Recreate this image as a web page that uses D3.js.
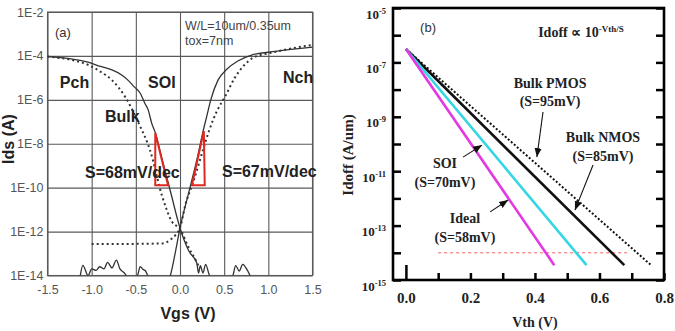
<!DOCTYPE html>
<html>
<head>
<meta charset="utf-8">
<script src="https://cdn.jsdelivr.net/npm/d3@7"></script>
<style>
body { margin: 0; background: #fff; }
svg { display: block; }
</style>
</head>
<body>
<script>
// ---- panel (a): Ids-Vgs, SOI (solid) vs bulk (dotted) ----
var vgsTicks = [-1.5, -1.0, -0.5, 0.0, 0.5, 1.0, 1.5],
    idsTicks = [1e-14, 1e-12, 1e-10, 1e-8, 1e-6, 1e-4, 1e-2];

// [Vgs, Ids]
var soiPch = [[-1.5, 9.3e-5], [-1.25, 7.6e-5], [-1.04, 5.2e-5], [-0.9, 3.3e-5], [-0.77, 2.3e-5],
  [-0.66, 1.35e-5], [-0.59, 7.9e-6], [-0.52, 4.0e-6], [-0.45, 2.0e-6], [-0.4, 7.2e-7],
  [-0.36, 3.5e-7], [-0.32, 8.5e-8], [-0.28, 3.2e-8], [-0.2, 1.8e-9], [-0.1, 5e-11],
  [0, 1.45e-12], [0.1, 1.3e-13], [0.19, 3.7e-14], [0.21, 1.3e-14], [0.23, 2.8e-14],
  [0.26, 1.3e-14], [0.29, 3.2e-14], [0.33, 1.1e-14], [0.37, 6e-15], [0.45, 5e-15],
  [0.57, 5e-15], [0.6, 1e-14], [0.63, 2.8e-14], [0.67, 1.6e-14], [0.71, 3.2e-14],
  [0.76, 1.8e-14], [0.8, 9e-15], [0.85, 5e-15], [1.5, 5e-15]];

var soiNch = [[-1.5, 5e-15], [-1.15, 5e-15], [-1.1, 2.9e-14], [-1.04, 1e-14], [-1.0, 2e-14],
  [-0.95, 1.7e-14], [-0.91, 2.5e-14], [-0.86, 2e-14], [-0.82, 4e-14], [-0.77, 2.2e-14],
  [-0.72, 5e-14], [-0.68, 2e-14], [-0.63, 1.3e-14], [-0.6, 9e-15], [-0.55, 5e-15],
  [-0.5, 7e-15], [-0.48, 1e-14], [-0.45, 2.5e-14], [-0.42, 1.9e-14], [-0.39, 1.6e-14],
  [-0.36, 9e-15], [-0.3, 5e-15], [-0.15, 5e-15], [-0.11, 1e-14], [-0.05, 1.3e-13],
  [0, 1.45e-12], [0.1, 6.3e-11], [0.19, 1.8e-9], [0.265, 4.3e-8], [0.3, 1.6e-7],
  [0.35, 1.05e-6], [0.43, 7.9e-6], [0.53, 2.45e-5], [0.66, 6e-5], [0.81, 1.1e-4],
  [1.08, 1.6e-4], [1.5, 2.5e-4]];

var bulkPch = [[-1.5, 9.3e-5], [-1.04, 3.9e-5], [-0.9, 1.9e-5], [-0.77, 7.9e-6], [-0.62, 1.35e-6],
  [-0.47, 8.9e-8], [-0.34, 5.2e-9], [-0.2, 3.8e-11], [-0.09, 2.8e-12], [0, 1.3e-12],
  [0.1, 1.8e-13], [0.19, 4e-14], [0.22, 2.2e-14]];

var bulkNch = [[-1.0, 2.75e-13], [-0.6, 2.75e-13], [-0.2, 2.9e-13], [-0.11, 4.2e-13], [-0.05, 7e-13],
  [0, 1.45e-12], [0.06, 1.6e-11], [0.15, 1.8e-10], [0.26, 5.2e-9], [0.33, 4e-8],
  [0.42, 3.2e-7], [0.51, 1.4e-6], [0.62, 1e-5], [0.72, 3.5e-5], [0.82, 7.9e-5],
  [1.07, 1.5e-4], [1.5, 3.2e-4]];

// slope triangles
var triPch = [[-0.28, 3.1e-8], [-0.28, 1.3e-10], [-0.135, 1.3e-10]],
    triNch = [[0.135, 1.3e-10], [0.28, 1.3e-10], [0.27, 3.8e-8]];

// ---- panel (b): Idoff vs Vth ----
var vthTicks = [0, 0.1, 0.2, 0.3, 0.4, 0.5, 0.6, 0.7, 0.8],
    ioffTicks = [1e-15, 1e-14, 1e-13, 1e-12, 1e-11, 1e-10, 1e-9, 1e-8, 1e-7, 1e-6, 1e-5];

// [Vth, Idoff]
var ideal = [[0, 3.1e-7], [0.46, 3.5e-15]],
    soi = [[0, 3.1e-7], [0.56, 3.5e-15]],
    bulkNmos = [[0, 3.1e-7], [0.677, 3.5e-15]],
    bulkPmos = [[0, 3.1e-7], [0.76, 3.5e-15]];
var refLevel = [[0.1, 1e-14], [0.685, 1e-14]];

var width = 675, height = 331;

var svg = d3.select("body").append("svg")
    .attr("width", width)
    .attr("height", height);

var sans = "'Liberation Sans', Arial, sans-serif",
    serif = "'Liberation Serif', 'Times New Roman', serif";

// ================= panel (a) =================
var xa = d3.scaleLinear().domain([-1.5, 1.5]).range([47.5, 312.5]),
    ya = d3.scaleLog().domain([1e-14, 1e-2]).range([275.5, 12]);

var ga = svg.append("g");
var aw = xa.range()[1] - xa.range()[0],
    ah = ya.range()[0] - ya.range()[1];

ga.append("g")
    .attr("transform", "translate(0," + ya.range()[0] + ")")
    .call(d3.axisBottom(xa).tickValues(vgsTicks).tickSize(-ah).tickSizeOuter(0).tickPadding(10)
      .tickFormat(function(d) { return d.toFixed(1); }))
    .call(styleGrid);

ga.append("g")
    .attr("transform", "translate(" + xa.range()[0] + ",0)")
    .call(d3.axisLeft(ya).tickValues(idsTicks).tickSize(-aw).tickSizeOuter(0).tickPadding(4)
      .tickFormat(function(d) { return "1E" + Math.round(Math.log10(d)); }))
    .call(styleGrid);

function styleGrid(g) {
  g.select(".domain").remove();
  g.selectAll(".tick line").attr("stroke", "#5a5a5a").attr("stroke-width", 1.1);
  g.selectAll(".tick text").attr("fill", "#555").style("font-family", sans).style("font-size", "12.5px");
}

ga.append("rect")
    .attr("x", xa.range()[0]).attr("y", ya.range()[1])
    .attr("width", aw).attr("height", ah)
    .attr("fill", "none").attr("stroke", "#5a5a5a").attr("stroke-width", 1.1);

svg.append("clipPath").attr("id", "clipa")
  .append("rect")
    .attr("x", xa.range()[0]).attr("y", ya.range()[1])
    .attr("width", aw).attr("height", ah);

var lineA = d3.line()
    .curve(d3.curveMonotoneX)
    .x(function(d) { return xa(d[0]); })
    .y(function(d) { return ya(d[1]); });

var curves = ga.append("g").attr("clip-path", "url(#clipa)");

[soiPch, soiNch].forEach(function(s) {
  curves.append("path").datum(s)
      .attr("d", lineA)
      .attr("fill", "none").attr("stroke", "#333").attr("stroke-width", 1.3);
});
[bulkPch, bulkNch].forEach(function(s) {
  curves.append("path").datum(s)
      .attr("d", lineA)
      .attr("fill", "none").attr("stroke", "#333").attr("stroke-width", 2)
      .attr("stroke-dasharray", "2,3");
});

[triPch, triNch].forEach(function(t) {
  ga.append("path").datum(t)
      .attr("d", d3.line().x(function(d) { return xa(d[0]); }).y(function(d) { return ya(d[1]); }).curve(d3.curveLinearClosed))
      .attr("fill", "none").attr("stroke", "#e0281e").attr("stroke-width", 2);
});

var labelsA = [
  {t: "(a)", v: -1.415, i: 7.2e-4, size: 13, w: "normal", c: "#333"},
  {t: "W/L=10um/0.35um", v: 0.057, i: 1.5e-3, size: 12.5, w: "normal", c: "#444"},
  {t: "tox=7nm", v: 0.057, i: 3.2e-4, size: 12.5, w: "normal", c: "#444"},
  {t: "Pch", v: -1.36, i: 3.5e-6, size: 16, w: "bold", c: "#222"},
  {t: "SOI", v: -0.362, i: 3.5e-6, size: 16, w: "bold", c: "#222"},
  {t: "Nch", v: 1.166, i: 5.9e-6, size: 16, w: "bold", c: "#222"},
  {t: "Bulk", v: -0.85, i: 9.8e-8, size: 16, w: "bold", c: "#222"},
  {t: "S=68mV/dec", v: -1.075, i: 2.75e-10, size: 16, w: "bold", c: "#222"},
  {t: "S=67mV/dec", v: 0.475, i: 3.1e-10, size: 16, w: "bold", c: "#222"}
];

ga.selectAll(".lab").data(labelsA).enter().append("text")
    .attr("x", function(d) { return xa(d.v); })
    .attr("y", function(d) { return ya(d.i); })
    .style("font-family", sans)
    .style("font-size", function(d) { return d.size + "px"; })
    .style("font-weight", function(d) { return d.w; })
    .attr("fill", function(d) { return d.c; })
    .text(function(d) { return d.t; });

ga.append("text")
    .attr("x", (xa.range()[0] + xa.range()[1]) / 2 + 8).attr("y", 319)
    .attr("text-anchor", "middle")
    .style("font-family", sans).style("font-size", "16px").style("font-weight", "bold")
    .attr("fill", "#222")
    .text("Vgs (V)");

ga.append("text")
    .attr("transform", "translate(14,139)rotate(-90)")
    .attr("text-anchor", "middle")
    .style("font-family", sans).style("font-size", "16px").style("font-weight", "bold")
    .attr("fill", "#222")
    .text("Ids (A)");

// ================= panel (b) =================
var xb = d3.scaleLinear().domain([-0.04, 0.8]).range([393, 664]),
    yb = d3.scaleLog().domain([1e-15, 1e-5]).range([280, 8]);

var gb = svg.append("g");

function expOf(d) { return Math.round(Math.log10(d)); }

gb.append("g")
    .attr("transform", "translate(" + xb.range()[0] + ",0)")
    .call(d3.axisLeft(yb).tickValues(ioffTicks).tickSize(-8).tickSizeOuter(0).tickPadding(7))
    .call(function(g) {
      g.select(".domain").remove();
      g.selectAll(".tick line").attr("stroke", "#000").attr("stroke-width", 2.5);
      g.selectAll(".tick text").each(function(d) {
        var t = d3.select(this).text(null).attr("dy", null).attr("y", 10)
            .attr("fill", "#222").style("font-family", serif).style("font-weight", "bold");
        if (expOf(d) % 2 === 0) return;
        t.append("tspan").style("font-size", "13px").text("10");
        t.append("tspan").attr("dy", -5).style("font-size", "8.5px").text(expOf(d));
      });
    });

gb.append("g")
    .attr("transform", "translate(" + xb.range()[1] + ",0)")
    .call(d3.axisRight(yb).tickValues(ioffTicks).tickSize(-8).tickSizeOuter(0).tickFormat(""))
    .call(function(g) {
      g.select(".domain").remove();
      g.selectAll(".tick line").attr("stroke", "#000").attr("stroke-width", 2.5);
    });

gb.append("g")
    .attr("transform", "translate(0," + yb.range()[0] + ")")
    .call(d3.axisBottom(xb).tickValues(vthTicks).tickSize(-7).tickSizeOuter(0).tickPadding(12)
      .tickFormat(function(d) { return Math.round(d * 10) % 2 === 0 ? d.toFixed(1) : ""; }))
    .call(function(g) {
      g.select(".domain").remove();
      g.selectAll(".tick line").attr("stroke", "#000").attr("stroke-width", 2.5)
          .filter(function(d) { return d === 0; }).attr("y2", -15);
      g.selectAll(".tick text").attr("fill", "#222")
          .style("font-family", serif).style("font-size", "15px").style("font-weight", "bold");
    });

gb.append("rect")
    .attr("x", xb.range()[0]).attr("y", yb.range()[1])
    .attr("width", xb.range()[1] - xb.range()[0]).attr("height", yb.range()[0] - yb.range()[1])
    .attr("fill", "none").attr("stroke", "#000").attr("stroke-width", 2.6);

var lineB = d3.line()
    .x(function(d) { return xb(d[0]); })
    .y(function(d) { return yb(d[1]); });

gb.append("path").datum(refLevel)
    .attr("d", lineB)
    .attr("fill", "none").attr("stroke", "#f06060").attr("stroke-width", 1)
    .attr("stroke-dasharray", "3,3");

gb.append("path").datum(bulkPmos)
    .attr("d", lineB)
    .attr("fill", "none").attr("stroke", "#111").attr("stroke-width", 2)
    .attr("stroke-dasharray", "2,2");

[[bulkNmos, "#111"], [soi, "#33d6e4"], [ideal, "#e23ae0"]].forEach(function(s) {
  gb.append("path").datum(s[0])
      .attr("d", lineB)
      .attr("fill", "none").attr("stroke", s[1]).attr("stroke-width", 2.6);
});

svg.append("defs").append("marker")
    .attr("id", "arrow")
    .attr("viewBox", "0 0 10 10")
    .attr("refX", 10).attr("refY", 5)
    .attr("markerUnits", "userSpaceOnUse")
    .attr("markerWidth", 9).attr("markerHeight", 9)
    .attr("orient", "auto")
  .append("path")
    .attr("d", "M0,1L10,5L0,9Z")
    .attr("fill", "#111");

var arrowsB = [
  [[0.425, 1.5e-9], [0.406, 3.3e-11]],
  [[0.580, 1.7e-11], [0.524, 3.7e-13]],
  [[0.177, 3.3e-11], [0.236, 9.1e-11]],
  [[0.261, 3.2e-13], [0.317, 8.7e-13]]
];

gb.selectAll(".arrow").data(arrowsB).enter().append("path")
    .attr("d", lineB)
    .attr("fill", "none").attr("stroke", "#111").attr("stroke-width", 1.1)
    .attr("marker-end", "url(#arrow)");

var labelsB = [
  {t: "Bulk PMOS", v: 0.447, i: 1.15e-8},
  {t: "(S=95mV)", v: 0.447, i: 2.5e-9},
  {t: "Bulk NMOS", v: 0.611, i: 1.17e-10},
  {t: "(S=85mV)", v: 0.611, i: 2.3e-11},
  {t: "SOI", v: 0.121, i: 1.3e-11},
  {t: "(S=70mV)", v: 0.121, i: 2.6e-12},
  {t: "Ideal", v: 0.183, i: 1.26e-13},
  {t: "(S=58mV)", v: 0.183, i: 2.5e-14}
];

gb.selectAll(".lab").data(labelsB).enter().append("text")
    .attr("x", function(d) { return xb(d.v); })
    .attr("y", function(d) { return yb(d.i); })
    .attr("text-anchor", "middle")
    .style("font-family", serif).style("font-size", "14px").style("font-weight", "bold")
    .attr("fill", "#222")
    .text(function(d) { return d.t; });

var formula = gb.append("text")
    .attr("x", xb(0.41)).attr("y", yb(8.5e-7))
    .style("font-family", serif).style("font-size", "14px").style("font-weight", "bold")
    .attr("fill", "#222");
formula.append("tspan").text("Idoff \u221d 10");
formula.append("tspan").attr("dy", -5).style("font-size", "9px").text("-Vth/S");

gb.append("text")
    .attr("x", xb(0.044)).attr("y", yb(1.3e-6))
    .style("font-family", sans).style("font-size", "13px")
    .attr("fill", "#333")
    .text("(b)");

gb.append("text")
    .attr("x", 535).attr("y", 327)
    .attr("text-anchor", "middle")
    .style("font-family", serif).style("font-size", "14px").style("font-weight", "bold")
    .attr("fill", "#222")
    .text("Vth (V)");

gb.append("text")
    .attr("transform", "translate(353,155)rotate(-90)")
    .attr("text-anchor", "middle")
    .style("font-family", serif).style("font-size", "15px").style("font-weight", "bold")
    .attr("fill", "#222")
    .text("Idoff (A/um)");
</script>
</body>
</html>
